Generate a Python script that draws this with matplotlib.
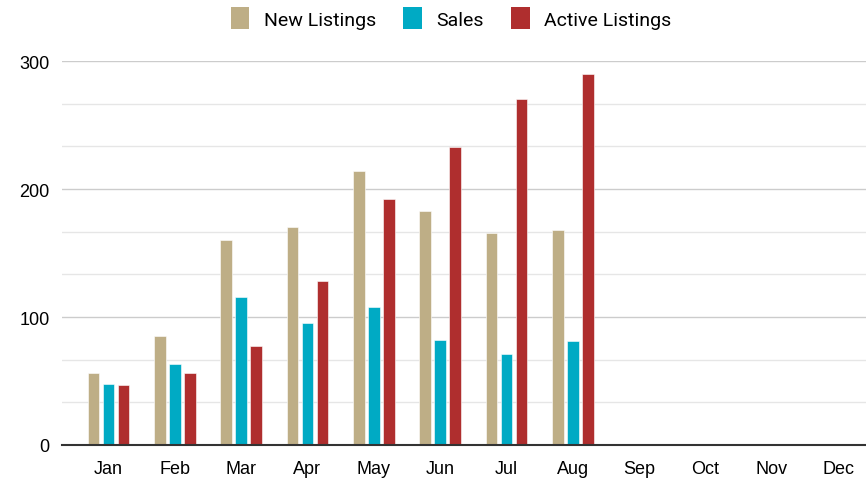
import numpy as np
from matplotlib import pyplot as plt

months = ["Jan", "Feb", "Mar", "Apr", "May", "Jun",
          "Jul", "Aug", "Sep", "Oct", "Nov", "Dec"]
new_listings = [56, 85, 160, 170, 214, 183, 166, 168]
sales = [48, 63, 116, 95, 108, 82, 71, 81]
active_listings = [47, 56, 77, 128, 192, 233, 270, 290]

series = [
    ("New Listings", new_listings, "#BEAE86"),
    ("Sales", sales, "#00AAC4"),
    ("Active Listings", active_listings, "#AF2E2E"),
]

fig = plt.figure(figsize=(8.66, 4.81), dpi=100)
ax = fig.add_axes([0.0716, 0.0728, 0.9284, 0.7982])

bar_w = 0.175
step = 0.226
for i, (name, vals, col) in enumerate(series):
    x = np.arange(len(vals)) + (i - 1) * step
    ax.bar(x, vals, width=bar_w, color=col, edgecolor="white",
           linewidth=0.4, label=name, zorder=3)

ax.set_xlim(-0.7, 11.42)
ax.set_ylim(0, 300)
ax.set_xticks(np.arange(len(months)))
ax.set_xticklabels(months, family="Liberation Sans", fontsize=13)
ax.set_yticks([0, 100, 200, 300])
ax.set_yticklabels(["0", "100", "200", "300"], family="Liberation Sans", fontsize=13)
ax.set_yticks(np.arange(0, 301, 100 / 3), minor=True)
ax.tick_params(axis="both", length=0, which="both")
ax.tick_params(axis="x", pad=11)
ax.tick_params(axis="y", pad=9)

ax.grid(axis="y", which="minor", color="#e6e6e6", lw=1, zorder=0)
ax.grid(axis="y", which="major", color="#cccccc", lw=1, zorder=0)
for s in ["top", "right", "left"]:
    ax.spines[s].set_visible(False)
ax.spines["bottom"].set_color("#333333")
ax.spines["bottom"].set_linewidth(1.5)
ax.spines["bottom"].set_zorder(4)

leg = fig.legend(loc="center", bbox_to_anchor=(0.521, 0.96), ncol=3,
                 frameon=False, prop={"family": "Roboto", "size": 14},
                 handlelength=0.95, handleheight=1.4, handletextpad=0.75,
                 columnspacing=1.4)
for h in leg.legend_handles:
    h.set_edgecolor("none")

fig.savefig("out.png", dpi=100)
